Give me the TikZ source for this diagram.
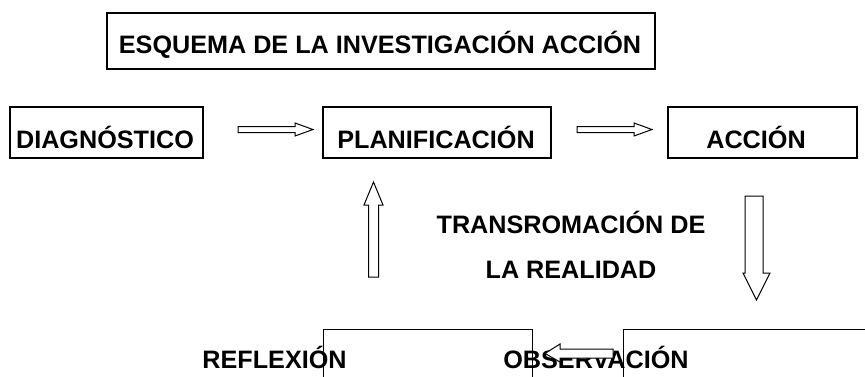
\documentclass[tikz,border=0pt]{standalone}
\usepackage{fontspec}
\setmainfont{Liberation Sans}
\begin{document}
\begin{tikzpicture}[x=1pt,y=-1pt,
  lbl/.style={anchor=base,inner sep=0pt,font=\fontsize{25.2}{30}\selectfont\bfseries},
  box/.style={draw,line width=1.5pt,inner sep=0pt},
  lowbox/.style={draw,line width=1pt},
  blk/.style={draw,line width=1pt,fill=white,line join=miter}]
\useasboundingbox (0,0) rectangle (865,376);
% boxes
\node[box,minimum width=548pt,minimum height=56pt] (title) at (381,41) {};
\node[box,minimum width=193pt,minimum height=51pt] (diag) at (106.5,132.5) {};
\node[box,minimum width=228pt,minimum height=51pt] (plan) at (437,132.5) {};
\node[box,minimum width=189pt,minimum height=51pt] (acc) at (762.5,132.5) {};
% texts
\node[lbl] (ttitle) at (380,53) {ESQUEMA DE LA INVESTIGACIÓN ACCIÓN};
\node[lbl] (tdiag) at (105,148) {DIAGNÓSTICO};
\node[lbl] (tplan) at (436,148) {PLANIFICACIÓN};
\node[lbl] (tacc) at (756,148) {ACCIÓN};
\node[lbl] (ttr1) at (571,233) {TRANSROMACIÓN DE};
\node[lbl] (ttr2) at (571,278) {LA REALIDAD};
\node[lbl] (trefl) at (274.5,368) {REFLEXIÓN};
\node[lbl] (tobs) at (596,368) {OBSERVACIÓN};
% lower boxes (cut by the page edge)
\begin{scope}
\clip (0,0) rectangle (865,376);
\draw[lowbox] (323,400) -- (323,329) -- (532,329) -- (532,400);
\draw[lowbox] (623,400) -- (623,329) -- (880,329);
\end{scope}
% block arrows
\draw[blk] (238,126.5) -- (295,126.5) -- (295,123) -- (313,129.5) -- (295,136) -- (295,132.5) -- (238,132.5) -- cycle;
\draw[blk] (577,126.5) -- (634,126.5) -- (634,123) -- (652,129.5) -- (634,136) -- (634,132.5) -- (577,132.5) -- cycle;
\draw[blk] (368.5,277) -- (368.5,205) -- (364,205) -- (373.5,182) -- (383,205) -- (378.5,205) -- (378.5,277) -- cycle;
\draw[blk] (745,196) -- (763,196) -- (763,273) -- (770,273) -- (756.5,300) -- (743,273) -- (745,273) -- cycle;
\draw[blk] (613,349) -- (560,349) -- (560,344) -- (545,353.5) -- (560,362) -- (560,358) -- (613,358) -- cycle;
\end{tikzpicture}
\end{document}
